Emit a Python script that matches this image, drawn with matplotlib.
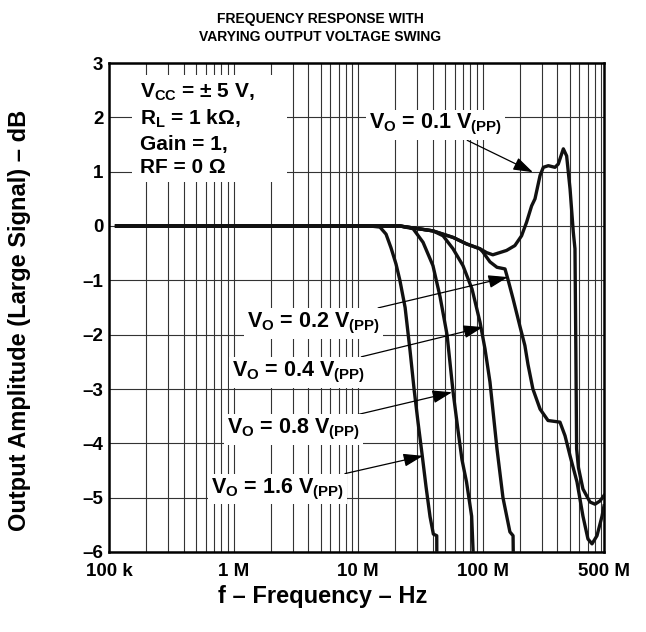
import numpy as np
import matplotlib
matplotlib.use('Agg')
import matplotlib.pyplot as plt
from matplotlib.patches import Rectangle
from matplotlib.ticker import FixedLocator, LogLocator, NullFormatter

plt.rcParams['font.family'] = ['Liberation Sans', 'DejaVu Sans']
plt.rcParams['font.weight'] = 'bold'
plt.rcParams['mathtext.fontset'] = 'custom'
plt.rcParams['mathtext.rm'] = 'Liberation Sans:bold'
plt.rcParams['mathtext.it'] = 'Liberation Sans:bold'
plt.rcParams['mathtext.bf'] = 'Liberation Sans:bold'
plt.rcParams['mathtext.default'] = 'rm'

# frequencies in MHz, amplitude in dB
f_01 = [0.115, 12, 21.7, 40, 58, 74.6, 95.5, 108, 121, 156, 182, 206, 226, 248, 264,
        290, 308, 338, 382, 406, 446, 474, 505, 536, 553, 562, 570, 590, 641, 730, 801, 879, 946]
db_01 = [0, 0, 0, -0.09, -0.21, -0.33, -0.42, -0.49, -0.53, -0.45, -0.36, -0.18, 0.07, 0.37, 0.5,
         0.93, 1.08, 1.11, 1.08, 1.14, 1.42, 1.29, 0.68, -0.11, -0.42, -2.26, -4.1, -4.45, -4.84, -5.08, -5.12, -5.06, -4.96]

f_02 = [0.115, 12, 21.7, 40, 58, 74.6, 95.5, 100.9, 114.8, 130.7, 151.6, 160, 176, 200, 219, 232,
        254, 290, 336, 419, 460, 505, 574, 641, 703, 758, 831, 912, 946]
db_02 = [0, 0, 0, -0.09, -0.21, -0.33, -0.42, -0.48, -0.66, -0.76, -0.79, -0.98, -1.34, -1.85, -2.2, -2.55,
         -3.0, -3.37, -3.58, -3.61, -3.86, -4.23, -4.71, -5.34, -5.76, -5.85, -5.7, -5.34, -5.15]

f_04 = [0.115, 12, 21.7, 40, 48.2, 58, 69.7, 82.4, 95.5, 104.7, 114.8, 130.7, 146, 166, 176, 177]
db_04 = [0, 0, 0, -0.09, -0.18, -0.42, -0.73, -1.16, -1.77, -2.26, -2.87, -4.1, -5.0, -5.63, -5.7, -6.2]

f_08 = [0.115, 12, 21.7, 27.7, 33.3, 40, 45.6, 51.9, 58, 63.9, 68.4, 74.4, 81.8, 84.8]
db_08 = [0, 0, 0, -0.05, -0.3, -0.73, -1.3, -2.0, -3.05, -3.8, -4.3, -4.71, -5.34, -6.2]

f_16 = [0.115, 12.5, 15, 16.8, 18.4, 20.2, 21.7, 23.9, 26.2, 28.2, 30.3, 32.7, 35.2, 37.9, 40.3, 42.9, 43.0]
db_16 = [0, 0, -0.02, -0.15, -0.4, -0.7, -1.0, -1.5, -2.3, -3.0, -3.6, -4.2, -4.8, -5.35, -5.67, -5.7, -6.2]

curves = [(f_01, db_01), (f_02, db_02), (f_04, db_04), (f_08, db_08), (f_16, db_16)]

# curve labels: text, text position (MHz, dB), arrow tip (MHz, dB)
vo_labels = ['0.1', '0.2', '0.4', '0.8', '1.6']
label_pos = [(42, 1.86), (4.39, -1.79), (3.33, -2.69), (3.03, -3.75), (2.26, -4.84)]
arrow_tip = [(254, 0.99), (160, -0.94), (101, -1.86), (56.9, -3.06), (33.3, -4.23)]

xtick_pos = [1e5, 1e6, 1e7, 1e8, 9.46e8]
xtick_labels = ['100 k', '1 M', '10 M', '100 M', '500 M']
ytick_pos = [-6, -5, -4, -3, -2, -1, 0, 1, 2, 3]
ytick_labels = ['–6', '–5', '–4', '–3', '–2', '–1', '0', '1', '2', '3']

conditions = ['V$_{CC}$ = ± 5 V,', 'R$_{L}$ = 1 kΩ,', 'Gain = 1,', 'RF = 0 Ω']

fig = plt.figure(figsize=(6.46, 6.32), dpi=100)
ax = fig.add_axes([109/646, 80/632, 495/646, 489/632])

for f, db in curves:
    ax.plot(np.array(f) * 1e6, db, color='#111111', lw=2.4, solid_joinstyle='round', zorder=3)

ax.set_xscale('log')
ax.set_xlim(1e5, 9.46e8)
ax.set_ylim(-6, 3)
ax.xaxis.set_major_locator(FixedLocator(xtick_pos))
ax.set_xticklabels(xtick_labels)
ax.xaxis.set_minor_locator(LogLocator(base=10, subs=np.arange(2, 10), numticks=60))
ax.xaxis.set_minor_formatter(NullFormatter())
ax.set_yticks(ytick_pos)
ax.set_yticklabels(ytick_labels)
ax.tick_params(which='both', length=0, labelsize=13.5)
ax.tick_params(axis='x', pad=8)
ax.tick_params(axis='y', pad=4)
ax.grid(True, which='both', color='#333333', lw=0.8)
ax.set_axisbelow(True)
for s in ax.spines.values():
    s.set_linewidth(1.8)

for lab, pos, tip in zip(vo_labels, label_pos, arrow_tip):
    ax.annotate('V$_{O}$ = ' + lab + ' V$_{(PP)}$', xy=(tip[0] * 1e6, tip[1]),
                xytext=(pos[0] * 1e6, pos[1]), ha='center', va='center', fontsize=15.5,
                bbox=dict(fc='white', ec='none', pad=2),
                arrowprops=dict(arrowstyle='-|>,head_length=0.6,head_width=0.2', color='black',
                                lw=0.9, mutation_scale=20, shrinkA=0, shrinkB=0),
                zorder=5)

# white panel behind the test conditions
ax.add_patch(Rectangle((0.0465, 0.757), 0.313, 0.218, transform=ax.transAxes,
                       fc='white', ec='none', zorder=2))
ax.text(0.0626, 0.962, '\n'.join(conditions), transform=ax.transAxes, ha='left', va='top',
        fontsize=15, linespacing=1.3, zorder=5)

fig.text(320/646, 1 - 12/632, 'FREQUENCY RESPONSE WITH\nVARYING OUTPUT VOLTAGE SWING',
         ha='center', va='top', fontsize=10, linespacing=1.4)
fig.text(20/646, 1 - 320/632, 'Output Amplitude (Large Signal) – dB', rotation=90,
         ha='center', va='center', fontsize=17)
fig.text(323/646, 1 - 597/632, 'f – Frequency – Hz', ha='center', va='center', fontsize=17)

fig.savefig('out.png', dpi=100)
